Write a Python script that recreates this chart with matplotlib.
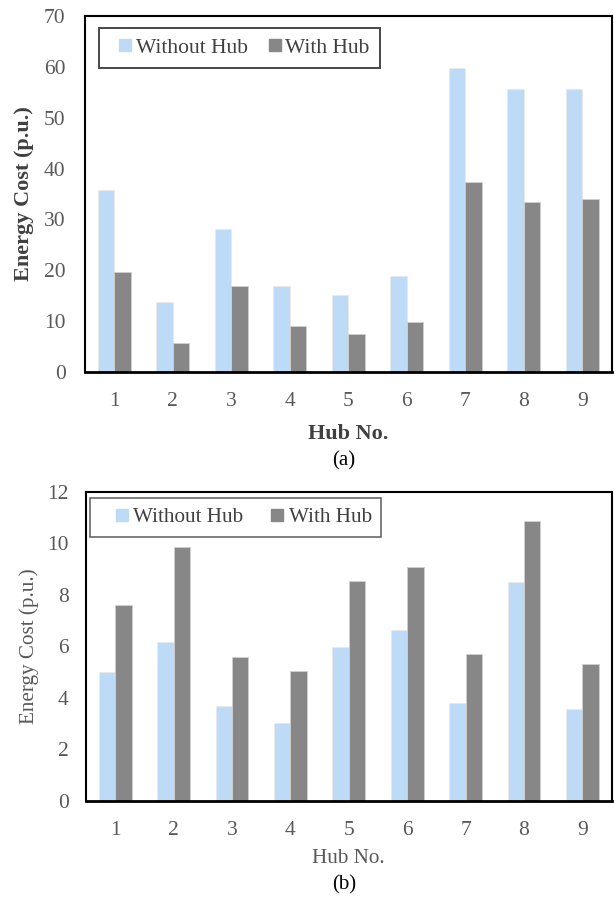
import matplotlib
matplotlib.use("Agg")
import matplotlib.pyplot as plt
import numpy as np
from matplotlib.lines import Line2D

# data
hubs = ["1", "2", "3", "4", "5", "6", "7", "8", "9"]
cost_a_without = [35.7, 13.7, 28.2, 16.9, 15.1, 18.8, 59.7, 55.7, 55.7]
cost_a_with = [19.6, 5.7, 17.0, 9.0, 7.4, 9.9, 37.3, 33.4, 34.0]
cost_b_without = [5.0, 6.15, 3.67, 3.04, 5.97, 6.62, 3.82, 8.5, 3.58]
cost_b_with = [7.62, 9.87, 5.6, 5.04, 8.55, 9.07, 5.69, 10.87, 5.33]
series_names = ["Without Hub", "With Hub"]
yticks_a = [0, 10, 20, 30, 40, 50, 60, 70]
yticks_b = [0, 2, 4, 6, 8, 10, 12]

BLUE = "#BDDBF7"
GREY = "#878787"
SERIF = ["Liberation Serif", "DejaVu Serif"]


def draw_panel(ax, without, with_hub, yticks, style):
    """Draws one grouped bar panel in the Excel-like style of the reference."""
    x = np.arange(len(hubs))
    width = 0.28
    ax.bar(x - width / 2, without, width, color=BLUE, edgecolor="#E8E8E8",
           linewidth=0.6, zorder=2)
    ax.bar(x + width / 2, with_hub, width, color=GREY, edgecolor="#D0D0D0",
           linewidth=0.6, zorder=2)

    ax.set_xlim(-0.5, len(hubs) - 0.5)
    ax.set_ylim(yticks[0], yticks[-1])
    ax.set_xticks(x)
    ax.set_xticklabels(hubs)
    ax.set_yticks(yticks)
    ax.tick_params(length=0, labelsize=15.5, colors="#595959")
    ax.tick_params(axis="x", pad=14.5)
    ax.tick_params(axis="y", pad=style["ypad"])
    for label in ax.get_xticklabels() + ax.get_yticklabels():
        label.set_family(SERIF)

    for spine in ax.spines.values():
        spine.set_color("black")
        spine.set_linewidth(1.5)
    ax.spines["bottom"].set_linewidth(2.0)

    ax.set_ylabel("Energy Cost (p.u.)", family=SERIF, fontsize=style["label_size"],
                  fontweight=style["weight"], color=style["label_color"])
    ax.set_xlabel("Hub No.", family=SERIF, fontsize=style["label_size"],
                  fontweight=style["weight"], color=style["label_color"])
    ax.yaxis.set_label_coords(style["ylabel_x"], 0.5)
    ax.xaxis.set_label_coords(0.5, style["xlabel_y"])
    ax.xaxis.label.set_va("center")

    # square markers, wide handle box so the squares sit inside like Excel's legend
    handles = [
        Line2D([], [], marker="s", linestyle="none", markersize=8,
               markerfacecolor=BLUE, markeredgecolor=BLUE),
        Line2D([], [], marker="s", linestyle="none", markersize=8,
               markerfacecolor=GREY, markeredgecolor=GREY),
    ]
    legend = ax.legend(handles, series_names, loc="upper left",
                       bbox_to_anchor=style["legend_anchor"], borderaxespad=0,
                       ncol=2, prop={"family": SERIF, "size": style["legend_size"]},
                       frameon=True, fancybox=False,
                       handlelength=style["handlelength"],
                       handletextpad=style["handletextpad"],
                       columnspacing=style["columnspacing"],
                       borderpad=0.45, labelcolor="#404040")
    legend.get_frame().set_edgecolor(style["frame_color"])
    legend.get_frame().set_linewidth(style["frame_width"])
    return ax


style_a = {
    "weight": "bold", "label_size": 16, "label_color": "#404040",
    "ylabel_x": -0.096, "xlabel_y": (372 - 434) / 356, "ypad": 14,
    "legend_anchor": (0.0266, 0.966), "legend_size": 15.5,
    "handlelength": 1.55, "handletextpad": -0.27, "columnspacing": 0.45,
    "frame_color": "#1A1A1A", "frame_width": 1.4,
}
style_b = {
    "weight": "normal", "label_size": 15.2, "label_color": "#595959",
    "ylabel_x": -0.089, "xlabel_y": (801 - 858) / 309.3, "ypad": 12.5,
    "legend_anchor": (0.0076, 0.980), "legend_size": 15.2,
    "handlelength": 2.1, "handletextpad": -0.5, "columnspacing": 0.55,
    "frame_color": "#333333", "frame_width": 1.1,
}

fig = plt.figure(figsize=(6.14, 8.97), dpi=100)

ax_a = fig.add_axes([85 / 614, 1 - 372 / 897, 526.6 / 614, 356 / 897])
draw_panel(ax_a, cost_a_without, cost_a_with, yticks_a, style_a)

ax_b = fig.add_axes([86 / 614, 1 - 801 / 897, 525.6 / 614, 309.3 / 897])
draw_panel(ax_b, cost_b_without, cost_b_with, yticks_b, style_b)

fig.text(344 / 614, 1 - 461 / 897, "(a)", family=SERIF, fontsize=15,
         ha="center", va="center", color="black")
fig.text(344 / 614, 1 - 885 / 897, "(b)", family=SERIF, fontsize=15,
         ha="center", va="center", color="black")

fig.savefig("out.png", dpi=100)
plt.close(fig)
